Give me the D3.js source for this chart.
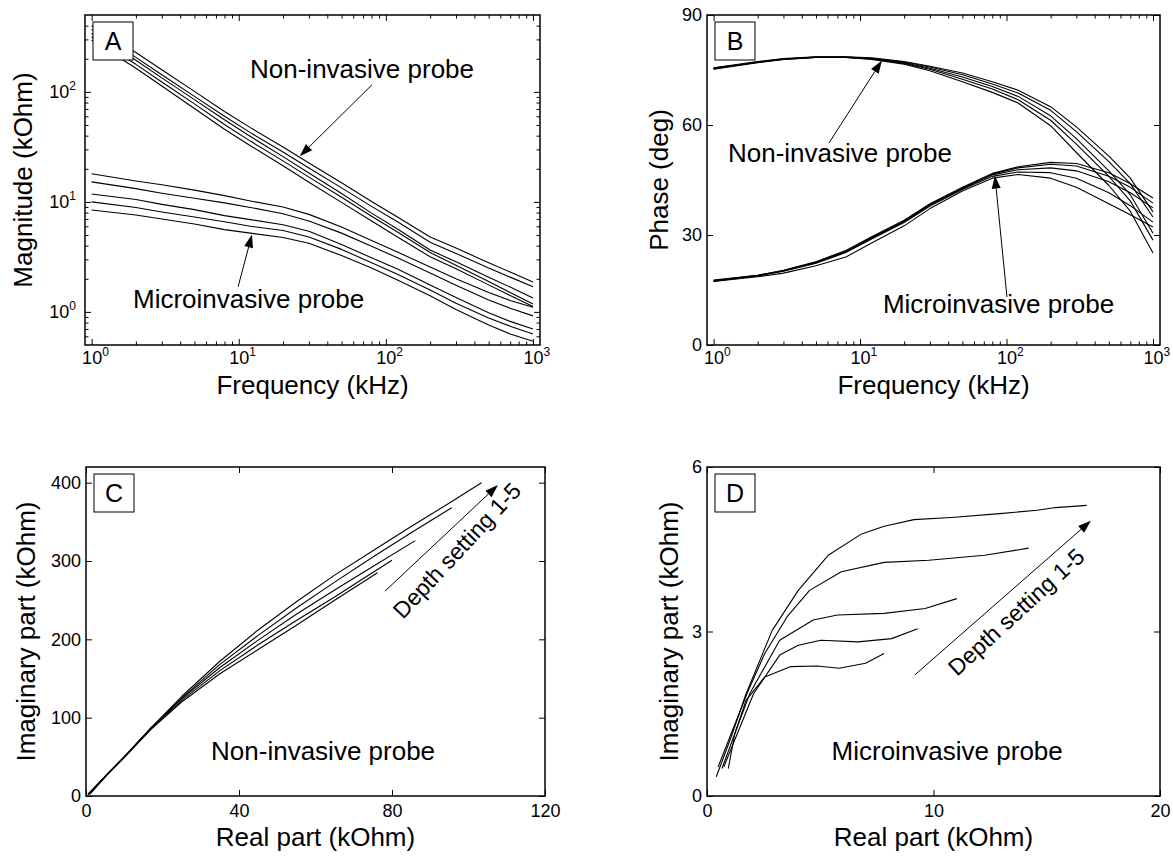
<!DOCTYPE html>
<html>
<head>
<meta charset="utf-8">
<script src="https://cdn.jsdelivr.net/npm/d3@7"></script>
<style>
  body { margin: 0; background: #fff; }
  svg text { font-family: "Liberation Sans", Arial, Helvetica, sans-serif; fill: #000; }
  .domain { display: none; }
  .tick line { stroke: #000; stroke-width: 1; }
</style>
</head>
<body>
<svg width="1173" height="856"></svg>
<script>
// ---- data ----
const freq = [1, 2, 3, 5, 8, 12, 20, 30, 50, 80, 120, 200, 300, 500, 700, 1000];

// panel A, magnitude (kOhm), five depth settings each
const magNonInvasive = [
  [400, 228, 159, 101, 66.4, 47.3, 31.5, 22.6, 14.9, 10.1, 7.3, 4.8, 3.8, 2.8, 2.3, 1.87],
  [370, 206, 143, 91, 60, 42.6, 28.4, 20.3, 13.4, 9.1, 6.6, 4.3, 3.4, 2.5, 2.07, 1.69],
  [340, 194, 134, 85, 55.8, 39.3, 25.8, 18.3, 11.9, 7.9, 5.66, 3.65, 2.85, 2.07, 1.68, 1.34],
  [316, 178, 123, 77.8, 50.5, 35.7, 23.6, 16.8, 11.0, 7.4, 5.33, 3.46, 2.66, 1.89, 1.5, 1.18],
  [296, 164, 113, 70.7, 45.8, 32.4, 21.3, 15.1, 9.9, 6.7, 4.8, 3.17, 2.47, 1.76, 1.41, 1.12]
];
const magMicroinvasive = [
  [18, 15.5, 14.3, 12.8, 11.4, 10.2, 9.0, 7.7, 5.9, 4.45, 3.5, 2.56, 2.0, 1.5, 1.27, 1.10],
  [15.2, 13.2, 12.0, 10.8, 9.8, 8.9, 7.8, 6.7, 5.2, 3.95, 3.1, 2.26, 1.75, 1.28, 1.08, 0.92],
  [11.8, 10.5, 9.5, 8.5, 7.5, 6.9, 6.2, 5.4, 4.1, 3.1, 2.45, 1.76, 1.35, 0.98, 0.82, 0.70],
  [10.0, 8.9, 8.1, 7.3, 6.6, 6.0, 5.5, 4.8, 3.7, 2.8, 2.2, 1.58, 1.2, 0.88, 0.74, 0.63],
  [8.45, 7.6, 7.0, 6.3, 5.6, 5.2, 4.75, 4.2, 3.25, 2.5, 1.95, 1.4, 1.05, 0.76, 0.63, 0.54]
];

// panel B, phase (deg)
const phaseNonInvasive = [
  [75.6, 77.3, 78.1, 78.6, 78.6, 78.3, 77.3, 76.0, 74.2, 71.8, 69.5, 65.0, 59.5, 51.5, 45.5, 36.3],
  [75.5, 77.2, 78.0, 78.5, 78.5, 78.2, 77.2, 75.8, 73.7, 71.2, 68.7, 64.0, 58.2, 50.0, 44.0, 34.9],
  [75.4, 77.1, 78.0, 78.5, 78.5, 78.1, 77.0, 75.5, 73.1, 70.5, 67.8, 62.5, 56.3, 47.5, 41.0, 30.5],
  [75.3, 77.1, 77.9, 78.4, 78.4, 78.0, 76.8, 75.2, 72.5, 69.8, 66.9, 61.3, 54.8, 46.0, 39.3, 28.6],
  [75.2, 77.0, 77.9, 78.4, 78.4, 77.9, 76.6, 74.8, 71.8, 68.9, 66.0, 59.8, 52.5, 43.5, 36.5, 25.1]
];
const phaseMicroinvasive = [
  [17.7, 19.0, 20.4, 22.7, 25.8, 29.5, 34.0, 38.5, 43.0, 46.8, 48.6, 49.8, 49.5, 47.0, 44.0, 40.1],
  [17.6, 19.0, 20.3, 22.6, 25.6, 29.3, 33.8, 38.3, 42.8, 46.6, 48.3, 49.3, 48.8, 46.0, 43.0, 38.7],
  [17.5, 18.9, 20.2, 22.4, 25.4, 29.1, 33.6, 38.1, 42.6, 46.4, 47.8, 48.3, 47.5, 44.5, 41.5, 37.4],
  [17.4, 18.8, 20.1, 22.3, 25.2, 28.9, 33.4, 37.9, 42.4, 46.0, 47.2, 47.0, 45.5, 41.5, 38.0, 33.5],
  [17.3, 18.6, 19.6, 21.6, 24.0, 27.8, 32.5, 37.2, 42.0, 45.5, 46.5, 45.5, 43.0, 38.5, 35.5, 32.2]
];

// panel C, [real, imaginary] (kOhm)
const nyqNonInvasive = [
  [[0.5, 2], [5, 25], [10, 50], [17, 87], [25, 127], [35, 172], [45, 212], [55, 248], [65, 282], [75, 313], [85, 344], [95, 374], [103.4, 400]],
  [[0.5, 2], [5, 25], [10, 50], [17, 87], [25, 125], [35, 168], [45, 205], [55, 240], [65, 273], [75, 305], [85, 336], [95.6, 368]],
  [[0.6, 2], [5, 25], [10, 50], [17, 87], [25, 124], [35, 164], [45, 199], [55, 232], [65, 263], [75, 293], [86.1, 326]],
  [[0.7, 2], [5, 25], [10, 50], [17, 86], [25, 122], [35, 160], [45, 193], [55, 224], [65, 254], [72, 276], [80, 301]],
  [[1, 2], [5, 24], [10, 49], [17, 85], [25, 120], [35, 156], [45, 187], [55, 218], [65, 250], [76.2, 285]]
];
// panel D
const nyqMicroinvasive = [
  [[0.41, 0.35], [1.07, 1.08], [1.73, 1.87], [2.88, 3.02], [4.03, 3.75], [5.35, 4.39], [6.83, 4.78], [7.82, 4.92], [9.14, 5.04], [10.78, 5.08], [12.92, 5.15], [14.57, 5.21], [15.39, 5.26], [16.76, 5.30]],
  [[0.49, 0.53], [1.07, 1.14], [1.8, 1.9], [2.55, 2.6], [3.54, 3.27], [4.53, 3.75], [5.93, 4.09], [7.82, 4.26], [9.79, 4.30], [12.26, 4.39], [14.2, 4.52]],
  [[0.66, 0.50], [1.23, 1.14], [1.89, 1.87], [3.21, 2.84], [4.69, 3.21], [5.76, 3.30], [7.82, 3.33], [9.63, 3.42], [11.03, 3.60]],
  [[0.74, 0.53], [1.40, 1.20], [2.06, 1.87], [3.21, 2.57], [4.03, 2.75], [5.02, 2.84], [6.67, 2.81], [8.15, 2.87], [9.30, 3.05]],
  [[0.94, 0.50], [1.23, 1.14], [1.73, 1.75], [2.55, 2.17], [3.70, 2.36], [4.86, 2.37], [5.84, 2.33], [7.00, 2.42], [7.82, 2.60]]
];

// tick values
const freqTicks = [1, 10, 100, 1000];
const magTicks = [1, 10, 100];
const phaseTicks = [0, 30, 60, 90];
const reNonTicks = [0, 40, 80, 120];
const imNonTicks = [0, 100, 200, 300, 400];
const reMicroTicks = [0, 10, 20];
const imMicroTicks = [0, 3, 6];

// ---- drawing ----
const svg = d3.select("svg");

function logMinor(dom) {
  const out = [];
  for (let k = -2; k <= 4; k++)
    for (let m = 2; m <= 9; m++) {
      const v = m * Math.pow(10, k);
      if (v > dom[0] && v < dom[1]) out.push(v);
    }
  return out;
}

function powLabel(text, d) {
  const k = Math.round(Math.log10(d));
  text.text("10").append("tspan").attr("dy", -8).attr("font-size", 12).text(k);
}

function panel(cfg) {
  const { l, r, t, b } = cfg.box;
  const w = r - l, h = b - t;
  const g = svg.append("g").attr("transform", `translate(${l},${t})`);
  const x = cfg.x.range([0, w]);
  const y = cfg.y.range([h, 0]);
  const xLog = cfg.xLog, yLog = cfg.yLog;

  // bottom axis with labels
  const bx = g.append("g").attr("transform", `translate(0,${h})`)
    .call(d3.axisBottom(x).tickValues(cfg.xTicks).tickSizeInner(-6).tickSizeOuter(0)
      .tickPadding(xLog ? 6 : 8).tickFormat(d3.format("d")));
  bx.selectAll("text").attr("font-size", 18);
  if (xLog) bx.selectAll(".tick text").each(function (d) {
    powLabel(d3.select(this).attr("text-anchor", "start").attr("x", -10), d);
  });

  const ly = g.append("g")
    .call(d3.axisLeft(y).tickValues(cfg.yTicks).tickSizeInner(-6).tickSizeOuter(0)
      .tickPadding(yLog ? 9 : 5).tickFormat(d3.format("d")));
  ly.selectAll("text").attr("font-size", 18);
  if (yLog) ly.selectAll(".tick text").each(function (d) { powLabel(d3.select(this), d); });

  g.append("g").call(d3.axisTop(x).tickValues(cfg.xTicks).tickSizeInner(-6).tickSizeOuter(0).tickFormat(""));
  g.append("g").attr("transform", `translate(${w},0)`)
    .call(d3.axisRight(y).tickValues(cfg.yTicks).tickSizeInner(-6).tickSizeOuter(0).tickFormat(""));

  if (xLog) {
    const mx = logMinor(x.domain());
    g.append("g").attr("transform", `translate(0,${h})`)
      .call(d3.axisBottom(x).tickValues(mx).tickSizeInner(-3.5).tickSizeOuter(0).tickFormat(""));
    g.append("g").call(d3.axisTop(x).tickValues(mx).tickSizeInner(-3.5).tickSizeOuter(0).tickFormat(""));
  }
  if (yLog) {
    const my = logMinor(y.domain());
    g.append("g").call(d3.axisLeft(y).tickValues(my).tickSizeInner(-3.5).tickSizeOuter(0).tickFormat(""));
    g.append("g").attr("transform", `translate(${w},0)`)
      .call(d3.axisRight(y).tickValues(my).tickSizeInner(-3.5).tickSizeOuter(0).tickFormat(""));
  }
  g.selectAll(".tick text").attr("fill", "#000");

  // curves
  const line = d3.line().x(d => x(d[0])).y(d => y(d[1]));
  g.append("g").selectAll("path")
    .data(cfg.series)
    .enter().append("path")
    .attr("d", line)
    .attr("fill", "none")
    .attr("stroke", "#000")
    .attr("stroke-width", 1.1)
    .attr("stroke-linejoin", "round");

  // frame
  g.append("rect").attr("width", w).attr("height", h)
    .attr("fill", "none").attr("stroke", "#000").attr("stroke-width", 1.5);

  // arrows and notes
  (cfg.arrows || []).forEach(a => {
    const x1 = x(a.from[0]), y1 = y(a.from[1]), x2 = x(a.to[0]), y2 = y(a.to[1]);
    const ang = Math.atan2(y2 - y1, x2 - x1);
    const L = 13, Wd = 4.5;
    const bxp = x2 - L * Math.cos(ang), byp = y2 - L * Math.sin(ang);
    g.append("line").attr("x1", x1).attr("y1", y1).attr("x2", bxp).attr("y2", byp)
      .attr("stroke", "#000").attr("stroke-width", 1);
    g.append("path")
      .attr("d", `M${x2},${y2}L${bxp + Wd * Math.sin(ang)},${byp - Wd * Math.cos(ang)}L${bxp - Wd * Math.sin(ang)},${byp + Wd * Math.cos(ang)}Z`)
      .attr("fill", "#000");
  });
  (cfg.notes || []).forEach(n => {
    const tx = x(n.at[0]), ty = y(n.at[1]);
    g.append("text").attr("x", tx).attr("y", ty)
      .attr("font-size", n.size || 26)
      .attr("transform", n.rotate ? `rotate(${n.rotate},${tx},${ty})` : null)
      .text(n.text);
  });

  // letter box
  g.append("rect").attr("x", 8).attr("y", 7).attr("width", 40).attr("height", 38)
    .attr("fill", "#fff").attr("stroke", "#000").attr("stroke-width", 1);
  g.append("text").attr("x", 28).attr("y", 35).attr("text-anchor", "middle")
    .attr("font-size", 25).text(cfg.letter);

  // axis titles
  svg.append("text").attr("x", l + w / 2).attr("y", cfg.xTitleY)
    .attr("text-anchor", "middle").attr("font-size", 26).text(cfg.xTitle);
  svg.append("text")
    .attr("transform", `translate(${cfg.yTitleX},${t + h / 2}) rotate(-90)`)
    .attr("text-anchor", "middle").attr("font-size", 26).text(cfg.yTitle);
}

const toPairs = (xs, ys) => xs.map((v, i) => [v, ys[i]]);
const logFreq = () => d3.scaleLog().domain([Math.pow(10, -0.045), Math.pow(10, 3.048)]);

panel({
  letter: "A",
  box: { l: 85, r: 540, t: 15, b: 345 },
  x: logFreq(), xLog: true, xTicks: freqTicks,
  y: d3.scaleLog().domain([0.5, 500]), yLog: true, yTicks: magTicks,
  series: magNonInvasive.concat(magMicroinvasive).map(s => toPairs(freq, s)),
  xTitle: "Frequency (kHz)", xTitleY: 394,
  yTitle: "Magnitude (kOhm)", yTitleX: 32,
  arrows: [{ from: [80.5, 116], to: [26, 26] }, { from: [9.9, 1.69], to: [12.3, 5.05] }],
  notes: [{ text: "Non-invasive probe", at: [Math.pow(10, (250 - 91.6) / 147.1), Math.pow(10, (312 - 78) / 110)] },
          { text: "Microinvasive probe", at: [Math.pow(10, (133 - 91.6) / 147.1), Math.pow(10, (312 - 308) / 110)] }]
});

panel({
  letter: "B",
  box: { l: 707, r: 1160, t: 15, b: 345 },
  x: logFreq(), xLog: true, xTicks: freqTicks,
  y: d3.scaleLinear().domain([0, 90]), yTicks: phaseTicks,
  series: phaseNonInvasive.concat(phaseMicroinvasive).map(s => toPairs(freq, s)),
  xTitle: "Frequency (kHz)", xTitleY: 394,
  yTitle: "Phase (deg)", yTitleX: 668,
  arrows: [{ from: [6.14, 55.1], to: [14.1, 77.6] }, { from: [100.7, 13.1], to: [83.3, 46.2] }],
  notes: [{ text: "Non-invasive probe", at: [Math.pow(10, (728 - 713.6) / 146.5), (345 - 162) / 3.667] },
          { text: "Microinvasive probe", at: [Math.pow(10, (883 - 713.6) / 146.5), (345 - 313) / 3.667] }]
});

panel({
  letter: "C",
  box: { l: 86, r: 545, t: 467, b: 796 },
  x: d3.scaleLinear().domain([0, 120]), xTicks: reNonTicks,
  y: d3.scaleLinear().domain([0, 420]), yTicks: imNonTicks,
  series: nyqNonInvasive,
  xTitle: "Real part (kOhm)", xTitleY: 846,
  yTitle: "Imaginary part (kOhm)", yTitleX: 35,
  arrows: [{ from: [78.2, 261.7], to: [107.7, 397] }],
  notes: [{ text: "Non-invasive probe", at: [32.7, 46] },
          { text: "Depth setting 1-5", at: [82.9, 224.7], rotate: -47, size: 23 }]
});

panel({
  letter: "D",
  box: { l: 707, r: 1160, t: 467, b: 796 },
  x: d3.scaleLinear().domain([0, 20]), xTicks: reMicroTicks,
  y: d3.scaleLinear().domain([0, 6]), yTicks: imMicroTicks,
  series: nyqMicroinvasive,
  xTitle: "Real part (kOhm)", xTitleY: 846,
  yTitle: "Imaginary part (kOhm)", yTitleX: 678,
  arrows: [{ from: [9.18, 2.21], to: [16.95, 5.02] }],
  notes: [{ text: "Microinvasive probe", at: [5.5, 0.66] },
          { text: "Depth setting 1-5", at: [11.04, 2.17], rotate: -42.5, size: 23 }]
});
</script>
</body>
</html>
